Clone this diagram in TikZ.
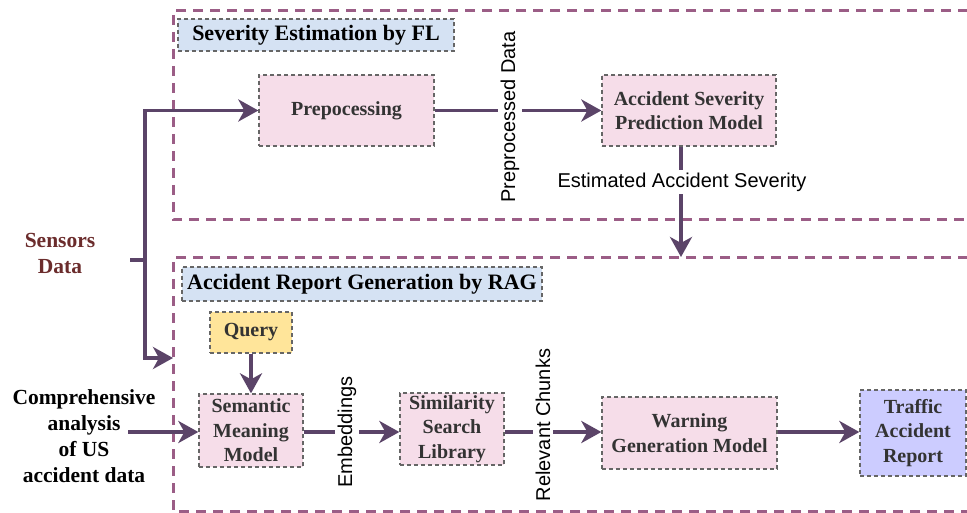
\documentclass[tikz,border=0pt]{standalone}
\usepackage{fontspec}
\setmainfont{Liberation Serif}
\newfontfamily\labelsans{Liberation Sans}
\usetikzlibrary{arrows.meta,calc}
\definecolor{framec}{HTML}{9B5D86}
\definecolor{arrc}{HTML}{5B4468}
\definecolor{pinkc}{HTML}{F6DDE9}
\definecolor{bluec}{HTML}{D5E2F3}
\definecolor{yellowc}{HTML}{FFE59A}
\definecolor{lavc}{HTML}{CCCCFF}
\definecolor{boxline}{HTML}{666666}
\definecolor{boxtext}{HTML}{333333}
\definecolor{sensc}{HTML}{6B2C2C}
\tikzset{
  frame/.style={draw=framec, line width=3pt, dash pattern=on 10pt off 7pt},
  box/.style={draw=boxline, line width=1.3pt, dash pattern=on 4pt off 3pt, fill=pinkc,
    text=boxtext, font=\bfseries\fontsize{20}{24.5}\selectfont, align=center, inner sep=0pt},
  titlebox/.style={box, fill=bluec, text=black, font=\bfseries\fontsize{22}{26}\selectfont},
  arr/.style={draw=arrc, line width=3.5pt, -{Stealth[length=20pt,width=22pt,inset=6pt]}},
  plainline/.style={draw=arrc, line width=3.5pt},
  flowlabel/.style={fill=white, font=\labelsans\fontsize{20}{24}\selectfont, inner sep=3pt},
  sidetext/.style={font=\bfseries\fontsize{21.5}{26}\selectfont, align=center}
}
\begin{document}
\begin{tikzpicture}[x=1pt,y=-1pt]
\useasboundingbox (0,0) rectangle (967,513);
\clip (0,0) rectangle (967,513);
\fill[white] (0,0) rectangle (967,513);
% frames
\draw[frame] (985,11) -- (173,11) -- (173,220) -- (985,220);
\draw[frame] (985,258) -- (173,258) -- (173,511) -- (985,511);
% nodes
\node[titlebox, minimum width=276pt, minimum height=32pt] (t1) at (316,35) {Severity Estimation by FL};
\node[titlebox, minimum width=360pt, minimum height=34pt] (t2) at (362,284) {Accident Report Generation by RAG};
\node[box, minimum width=175pt, minimum height=71pt] (prep) at (346.5,110.5) {Prepocessing};
\node[box, minimum width=174pt, minimum height=71pt] (asp) at (689,110.5) {Accident Severity\\Prediction Model};
\node[box, fill=yellowc, minimum width=82pt, minimum height=41pt] (query) at (251,332.5) {Query};
\node[box, minimum width=104pt, minimum height=73pt] (sem) at (251,430.5) {Semantic\\Meaning\\Model};
\node[box, minimum width=104pt, minimum height=72pt] (ssl) at (452,429) {Similarity\\Search\\Library};
\node[box, minimum width=175pt, minimum height=72pt] (warn) at (689.5,433) {Warning\\Generation Model};
\node[box, fill=lavc, minimum width=106pt, minimum height=86pt] (traffic) at (913,433) {Traffic\\Accident\\Report};
\node[sidetext, text=sensc] (sens) at (60,253) {Sensors\\Data};
\node[sidetext, text=black] (comp) at (84,436) {Comprehensive\\analysis\\of US\\accident data};
% coordinates
\coordinate (s0) at (130,260);
\coordinate (j) at (145,260);
\coordinate (ragin) at (173,358);
\coordinate (cin) at (128,432);
\coordinate (sevdown) at (681,257);
% connectors
\draw[plainline] (s0) -- (j);
\draw[arr] (j) |- (prep.west);
\draw[arr] (j) |- (ragin);
\draw[arr] (cin) -- (cin -| sem.west);
\draw[arr] (prep.east) -- (asp.west);
\node[flowlabel, rotate=90] (lpd) at (510,117) {Preprocessed Data};
\draw[arr] (asp.south -| sevdown) -- (sevdown);
\node[flowlabel] (les) at (682,182) {Estimated Accident Severity};
\draw[arr] (query.south) -- (sem.north);
\draw[arr] (cin -| sem.east) -- (cin -| ssl.west);
\node[flowlabel, rotate=90] (lemb) at (347,432) {Embeddings};
\draw[arr] (cin -| ssl.east) -- (cin -| warn.west);
\node[flowlabel, rotate=90] (lrc) at (543,425) {Relevant Chunks};
\draw[arr] (cin -| warn.east) -- (cin -| traffic.west);
\end{tikzpicture}
\end{document}
